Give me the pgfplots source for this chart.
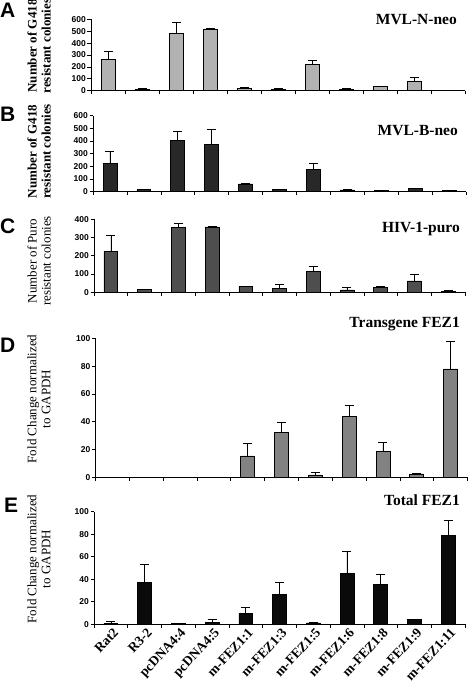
\documentclass[border=0pt]{standalone}
\usepackage{fontspec}
\setmainfont{Liberation Serif}
\newfontfamily\sansf{Liberation Sans}
\usepackage{pgfplots}
\pgfplotsset{compat=1.18}
\definecolor{cA}{RGB}{178,178,178}
\definecolor{cB}{RGB}{40,40,40}
\definecolor{cC}{RGB}{78,78,78}
\definecolor{cD}{RGB}{130,130,130}
\definecolor{cE}{RGB}{10,10,10}
\pgfplotsset{
  panel/.style={
    scale only axis, anchor=south west,
    axis x line=bottom, axis y line=left,
    axis line style={-, line width=0.7pt},
    xmin=-0.5, xmax=10.5, ymin=0,
    xtick={-0.5,0.5,...,10.5}, xticklabels={},
    tick align=outside, major tick length=3.5pt,
    tick style={line width=0.6pt, black},
    tick label style={font=\sansf\bfseries\fontsize{8.5}{9}\selectfont},
    yticklabel style={inner sep=1.5pt},
    /pgf/number format/assume math mode=true,
    ybar, bar width=0.41, clip=false,
  },
  bars/.style={
    draw=black, line width=0.7pt, fill=#1,
    error bars/.cd, y dir=plus, y explicit,
    error bar style={black, line width=0.6pt},
    error mark options={black, rotate=90, mark size=4.5pt, line width=0.6pt},
  },
}
\begin{document}
\begin{tikzpicture}
\useasboundingbox (0,0) rectangle (469pt,697pt);
% Panel A
\begin{axis}[panel, at={(91pt,606.3pt)}, width=374pt, height=71.4pt, ymax=600, ytick={0,100,...,600}]
\addplot[bars=cA] coordinates {(0,266) +- (0,64) (1,14) +- (0,5) (2,478) +- (0,98) (3,514) +- (0,9) (4,20) +- (0,7) (5,14) +- (0,4) (6,224) +- (0,33) (7,14) +- (0,3) (8,34) +- (0,7) (9,75) +- (0,37) (10,5) +- (0,2)};
\end{axis}
% Panel B
\begin{axis}[panel, at={(93pt,505.3pt)}, width=373pt, height=76pt, ymax=600, ytick={0,100,...,600}]
\addplot[bars=cB] coordinates {(0,221) +- (0,95) (1,16) +- (0,2) (2,405) +- (0,69) (3,371) +- (0,121) (4,61) +- (0,5) (5,16) +- (0,2) (6,179) +- (0,45) (7,14) +- (0,2) (8,10) +- (0,0) (9,24) +- (0,2) (10,10) +- (0,0)};
\end{axis}
% Panel C
\begin{axis}[panel, at={(94pt,404.7pt)}, width=371pt, height=73pt, ymax=400, ytick={0,100,...,400}]
\addplot[bars=cC] coordinates {(0,224) +- (0,91) (1,15) +- (0,3) (2,356) +- (0,24) (3,358) +- (0,4) (4,31) +- (0,0) (5,20) +- (0,24) (6,116) +- (0,24) (7,13) +- (0,14) (8,25) +- (0,6) (9,62) +- (0,36) (10,7) +- (0,6)};
\end{axis}
% Panel D
\begin{axis}[panel, at={(95.5pt,219.7pt)}, width=372pt, height=139pt, ymax=100, ytick={0,20,...,100}]
\addplot[bars=cD] coordinates {(4,15.4) +- (0,9.2) (5,32.5) +- (0,7.3) (6,1.7) +- (0,2.2) (7,43.9) +- (0,8.1) (8,18.6) +- (0,6.9) (9,2.4) +- (0,0.5) (10,78) +- (0,19.6)};
\end{axis}
% Panel E
\begin{axis}[panel, at={(94pt,72.7pt)}, width=371pt, height=112.6pt, ymax=100, ytick={0,20,...,100},
  extra x ticks={0,1,...,10},
  extra x tick labels={Rat2,R3-2,pcDNA4:4,pcDNA4:5,m-FEZ1:1,m-FEZ1:3,m-FEZ1:5,m-FEZ1:6,m-FEZ1:8,m-FEZ1:9,m-FEZ1:11},
  extra x tick style={major tick length=0pt, tick label style={rotate=47, anchor=north east, inner sep=1pt, yshift=-2pt, font=\bfseries\fontsize{13.5}{14}\selectfont}}]
\addplot[bars=cE] coordinates {(0,0.9) +- (0,1.8) (1,36.9) +- (0,16.1) (2,0.6) +- (0,0) (3,2) +- (0,2.7) (4,9.4) +- (0,5.3) (5,26.8) +- (0,10.4) (6,1.2) +- (0,0.8) (7,45) +- (0,19.6) (8,35.1) +- (0,9.4) (9,4.1) +- (0,0) (10,79) +- (0,13.3)};
\end{axis}
% Panel letters
\begin{scope}[every node/.style={anchor=north west, inner sep=0pt, font=\sansf\bfseries\fontsize{21}{22}\selectfont}]
\node at (0pt,694pt) {A};
\node at (0pt,590pt) {B};
\node at (0pt,478pt) {C};
\node at (0pt,359pt) {D};
\node at (4pt,199pt) {E};
\end{scope}
% Titles
\begin{scope}[every node/.style={anchor=base east, inner sep=0pt, font=\bfseries\fontsize{15.5}{16}\selectfont}]
\node at (457pt,672pt) {MVL-N-neo};
\node at (458pt,561pt) {MVL-B-neo};
\node at (460pt,464pt) {HIV-1-puro};
\node at (460pt,369pt) {Transgene FEZ1};
\node at (460pt,191pt) {Total FEZ1};
\end{scope}
% Y labels
\node[rotate=90, align=center, font=\bfseries\fontsize{13}{14}\selectfont] at (39pt,651pt) {Number of G418\\resistant colonies};
\node[rotate=90, align=center, font=\bfseries\fontsize{13}{14}\selectfont] at (39pt,545.5pt) {Number of G418\\resistant colonies};
\node[rotate=90, align=center, font=\fontsize{13}{14}\selectfont] at (39pt,436pt) {Number of Puro\\resistant colonies};
\node[rotate=90, align=center, font=\fontsize{13}{14}\selectfont] at (39pt,298pt) {Fold Change normalized\\to GAPDH};
\node[rotate=90, align=center, font=\fontsize{13}{14}\selectfont] at (39pt,138pt) {Fold Change normalized\\to GAPDH};
\end{tikzpicture}
\end{document}
